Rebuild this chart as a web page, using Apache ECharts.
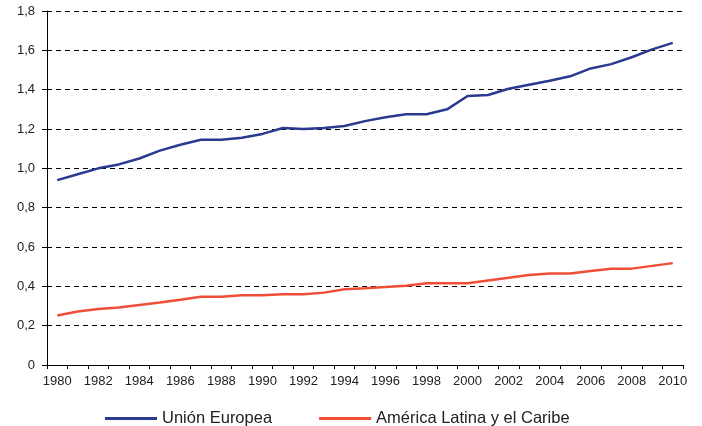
<!DOCTYPE html>
<html>
<head>
<meta charset="utf-8">
<script src="https://cdn.jsdelivr.net/npm/echarts@6/dist/echarts.min.js"></script>
<style>html,body{margin:0;padding:0;background:#fff}#c{width:702px;height:426px}</style>
</head>
<body>
<div id="c"></div>
<script>
const years = [];
for (let y = 1980; y <= 2010; y++) years.push(String(y));
const seriesNames = ['Unión Europea', 'América Latina y el Caribe'];
const euValues = [0.94, 0.97, 1.00, 1.02, 1.05, 1.09, 1.12, 1.145, 1.145, 1.155, 1.175, 1.205, 1.20, 1.205, 1.215, 1.24, 1.26, 1.275, 1.275, 1.30, 1.368, 1.373, 1.405, 1.425, 1.445, 1.468, 1.508, 1.53, 1.565, 1.605, 1.638];
const lacValues = [0.252, 0.272, 0.285, 0.292, 0.305, 0.318, 0.332, 0.347, 0.347, 0.355, 0.355, 0.36, 0.36, 0.368, 0.385, 0.39, 0.396, 0.403, 0.416, 0.416, 0.416, 0.43, 0.444, 0.458, 0.465, 0.465, 0.478, 0.49, 0.49, 0.504, 0.518];

const chart = echarts.init(document.getElementById('c'), null, {renderer: 'canvas'});
const font = 'Liberation Sans, Arial, sans-serif';
chart.setOption({
  animation: false,
  backgroundColor: '#fff',
  grid: {left: 47, right: 19, top: 11, bottom: 61},
  legend: {
    top: 410,
    left: 105,
    padding: 0,
    icon: 'rect',
    itemWidth: 52,
    itemHeight: 3,
    itemGap: 47,
    textStyle: {fontFamily: font, fontSize: 16.5, color: '#222'},
    data: seriesNames
  },
  xAxis: {
    type: 'category',
    data: years,
    boundaryGap: true,
    axisLine: {lineStyle: {color: '#000', width: 1}},
    axisTick: {show: true, length: 4, interval: 0, lineStyle: {color: '#000'}},
    axisLabel: {interval: 1, fontFamily: font, fontSize: 13, color: '#222', margin: 10},
    splitLine: {show: false}
  },
  yAxis: {
    type: 'value',
    min: 0, max: 1.8, interval: 0.2,
    axisLine: {show: true, lineStyle: {color: '#000', width: 1}},
    axisTick: {show: true, length: 5, lineStyle: {color: '#000'}},
    axisLabel: {fontFamily: font, fontSize: 13, color: '#222', margin: 12,
      formatter: v => v === 0 ? '0' : v.toFixed(1).replace('.', ',')},
    splitLine: {show: true, lineStyle: {color: '#000', type: [5, 4], width: 1}}
  },
  series: [
    {name: seriesNames[0], type: 'line', data: euValues, symbol: 'none',
     lineStyle: {color: '#2B3990', width: 2.5}, itemStyle: {color: '#2B3990'}},
    {name: seriesNames[1], type: 'line', data: lacValues, symbol: 'none',
     lineStyle: {color: '#F04E37', width: 2.5}, itemStyle: {color: '#F04E37'}}
  ]
});
</script>
</body>
</html>
